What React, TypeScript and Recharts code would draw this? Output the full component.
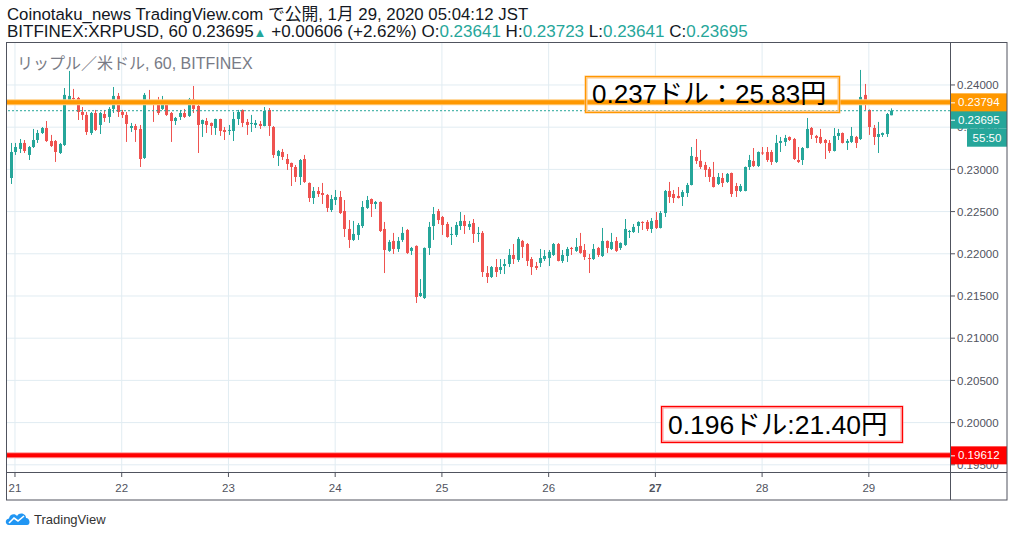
import React from 'react';
import { ComposedChart, Bar, XAxis, YAxis, CartesianGrid, ReferenceLine, ReferenceArea } from 'recharts';

const W = 1014;
const H = 537;
const UP = '#26a69a';
const DOWN = '#ef5350';
const AXIS = '#50535e';
const GRID = '#e1ecf2';
const FONT = '"Liberation Sans", Arial, "Noto Sans CJK JP", sans-serif';

// hourly bars, hour 0 = 21日 00:00, first bar is 20日 23:00
const FIRST_HOUR = -1;

const opens = [
  0.22898, 0.23206, 0.23242, 0.23313, 0.23171, 0.23265, 0.23348, 0.23431, 0.23490, 0.23336,
  0.23336, 0.23194, 0.23289, 0.23799, 0.23846, 0.23846, 0.23680, 0.23645, 0.23431, 0.23668,
  0.23526, 0.23656, 0.23621, 0.23716, 0.23870, 0.23680, 0.23645, 0.23490, 0.23514, 0.23479,
  0.23135, 0.23810, 0.23810, 0.23822, 0.23716, 0.23787, 0.23668, 0.23573, 0.23621, 0.23668,
  0.23633, 0.23834, 0.23751, 0.23538, 0.23573, 0.23550, 0.23490, 0.23597, 0.23467, 0.23455,
  0.23455, 0.23597, 0.23704, 0.23562, 0.23538, 0.23526, 0.23538, 0.23514, 0.23704, 0.23502,
  0.23159, 0.23206, 0.23123, 0.23076, 0.23028, 0.22910, 0.23123, 0.22839, 0.22661, 0.22744,
  0.22720, 0.22697, 0.22519, 0.22637, 0.22673, 0.22507, 0.22294, 0.22164, 0.22223, 0.22329,
  0.22543, 0.22649, 0.22590, 0.22614, 0.22294, 0.22034, 0.22152, 0.22057, 0.22164, 0.22282,
  0.22034, 0.22093, 0.21500, 0.21476, 0.22069, 0.22329, 0.22507, 0.22436, 0.22353, 0.22223,
  0.22223, 0.22329, 0.22389, 0.22318, 0.22365, 0.22235, 0.22247, 0.21772, 0.21725, 0.21843,
  0.21808, 0.21855, 0.21879, 0.21986, 0.21927, 0.22152, 0.22116, 0.21938, 0.21855, 0.21891,
  0.21938, 0.21950, 0.21986, 0.22116, 0.21915, 0.21974, 0.22069, 0.22034, 0.22093, 0.22045,
  0.21950, 0.21938, 0.22069, 0.21974, 0.22152, 0.22057, 0.22152, 0.22069, 0.22104, 0.22258,
  0.22258, 0.22329, 0.22377, 0.22377, 0.22294, 0.22400, 0.22306, 0.22483, 0.22744, 0.22708,
  0.22685, 0.22673, 0.22720, 0.22815, 0.23147, 0.23100, 0.23052, 0.23005, 0.22910, 0.22827,
  0.22898, 0.22851, 0.22957, 0.22803, 0.22744, 0.22744, 0.23028, 0.23100, 0.23040, 0.23200,
  0.23206, 0.23206, 0.23088, 0.23313, 0.23325, 0.23384, 0.23360, 0.23111, 0.23111, 0.23253,
  0.23490, 0.23396, 0.23384, 0.23348, 0.23313, 0.23218, 0.23396, 0.23431, 0.23313, 0.23325,
  0.23384, 0.23360, 0.23882, 0.23704, 0.23490, 0.23384, 0.23408, 0.23419, 0.23641,
];

const highs = [
  0.23313, 0.23313, 0.23360, 0.23348, 0.23277, 0.23479, 0.23467, 0.23502, 0.23573, 0.23408,
  0.23348, 0.23313, 0.23964, 0.24166, 0.23953, 0.23858, 0.23739, 0.23680, 0.23680, 0.23704,
  0.23680, 0.23704, 0.23739, 0.23976, 0.23905, 0.23704, 0.23680, 0.23550, 0.23538, 0.23526,
  0.23905, 0.23941, 0.23822, 0.23858, 0.23870, 0.23822, 0.23680, 0.23621, 0.23704, 0.23716,
  0.23846, 0.23988, 0.23775, 0.23590, 0.23609, 0.23555, 0.23600, 0.23600, 0.23502, 0.23526,
  0.23680, 0.23704, 0.23710, 0.23597, 0.23645, 0.23585, 0.23573, 0.23739, 0.23727, 0.23514,
  0.23230, 0.23242, 0.23182, 0.23080, 0.23052, 0.23123, 0.23171, 0.22845, 0.22791, 0.22791,
  0.22839, 0.22708, 0.22697, 0.22756, 0.22744, 0.22637, 0.22400, 0.22389, 0.22365, 0.22625,
  0.22685, 0.22655, 0.22625, 0.22620, 0.22377, 0.22164, 0.22247, 0.22199, 0.22318, 0.22294,
  0.22081, 0.22100, 0.21701, 0.22075, 0.22377, 0.22554, 0.22531, 0.22448, 0.22377, 0.22318,
  0.22377, 0.22495, 0.22460, 0.22389, 0.22412, 0.22318, 0.22270, 0.21855, 0.21855, 0.21938,
  0.21938, 0.21938, 0.22057, 0.22116, 0.22199, 0.22164, 0.22128, 0.21962, 0.21903, 0.22057,
  0.22045, 0.22045, 0.22128, 0.22128, 0.22045, 0.22081, 0.22081, 0.22187, 0.22247, 0.22116,
  0.21998, 0.22116, 0.22081, 0.22306, 0.22158, 0.22247, 0.22199, 0.22135, 0.22412, 0.22282,
  0.22353, 0.22385, 0.22385, 0.22400, 0.22424, 0.22495, 0.22507, 0.22756, 0.22851, 0.22756,
  0.22791, 0.22756, 0.22839, 0.23265, 0.23360, 0.23230, 0.23088, 0.23028, 0.23088, 0.22957,
  0.22957, 0.22957, 0.22962, 0.22839, 0.22827, 0.23034, 0.23171, 0.23253, 0.23212, 0.23265,
  0.23265, 0.23230, 0.23408, 0.23384, 0.23408, 0.23390, 0.23372, 0.23265, 0.23265, 0.23609,
  0.23502, 0.23408, 0.23479, 0.23360, 0.23348, 0.23490, 0.23479, 0.23437, 0.23360, 0.23502,
  0.23396, 0.24178, 0.24012, 0.23710, 0.23526, 0.23562, 0.23437, 0.23668, 0.23723,
];

const lows = [
  0.22827, 0.23171, 0.23194, 0.23194, 0.23111, 0.23253, 0.23313, 0.23419, 0.23325, 0.23265,
  0.23088, 0.23182, 0.23277, 0.23763, 0.23822, 0.23585, 0.23585, 0.23408, 0.23408, 0.23455,
  0.23419, 0.23562, 0.23550, 0.23668, 0.23621, 0.23609, 0.23325, 0.23443, 0.23325, 0.23028,
  0.23123, 0.23763, 0.23562, 0.23645, 0.23704, 0.23633, 0.23325, 0.23526, 0.23585, 0.23609,
  0.23621, 0.23668, 0.23194, 0.23384, 0.23431, 0.23408, 0.23408, 0.23396, 0.23348, 0.23408,
  0.23336, 0.23526, 0.23502, 0.23408, 0.23443, 0.23490, 0.23479, 0.23510, 0.23396, 0.23135,
  0.23040, 0.23111, 0.22993, 0.22803, 0.22851, 0.22815, 0.22839, 0.22614, 0.22590, 0.22673,
  0.22590, 0.22495, 0.22495, 0.22578, 0.22471, 0.22199, 0.22069, 0.22152, 0.22164, 0.22306,
  0.22531, 0.22436, 0.22531, 0.22258, 0.21772, 0.22022, 0.21998, 0.22022, 0.22140, 0.21998,
  0.21986, 0.21417, 0.21488, 0.21464, 0.21986, 0.22164, 0.22353, 0.22223, 0.22190, 0.22104,
  0.22199, 0.22282, 0.22235, 0.22282, 0.22128, 0.22140, 0.21725, 0.21654, 0.21713, 0.21725,
  0.21760, 0.21760, 0.21843, 0.21879, 0.21903, 0.21950, 0.21855, 0.21749, 0.21808, 0.21843,
  0.21915, 0.21855, 0.21974, 0.21910, 0.21891, 0.21903, 0.21986, 0.22022, 0.22000, 0.21927,
  0.21772, 0.21927, 0.21962, 0.21962, 0.22010, 0.22045, 0.22022, 0.22045, 0.22093, 0.22187,
  0.22247, 0.22247, 0.22282, 0.22270, 0.22247, 0.22294, 0.22300, 0.22436, 0.22602, 0.22602,
  0.22655, 0.22566, 0.22673, 0.22810, 0.23064, 0.23005, 0.22910, 0.22851, 0.22785, 0.22815,
  0.22791, 0.22839, 0.22673, 0.22673, 0.22732, 0.22740, 0.22993, 0.23028, 0.23028, 0.23171,
  0.23088, 0.23052, 0.23076, 0.23206, 0.23277, 0.23336, 0.23111, 0.23076, 0.23052, 0.23250,
  0.23360, 0.23313, 0.23301, 0.23123, 0.23194, 0.23212, 0.23348, 0.23307, 0.23230, 0.23313,
  0.23253, 0.23348, 0.23704, 0.23408, 0.23289, 0.23194, 0.23384, 0.23384, 0.23641,
];

const closes = [
  0.23206, 0.23265, 0.23313, 0.23218, 0.23265, 0.23348, 0.23431, 0.23490, 0.23336, 0.23277,
  0.23206, 0.23301, 0.23882, 0.23870, 0.23834, 0.23680, 0.23645, 0.23443, 0.23668, 0.23467,
  0.23668, 0.23609, 0.23716, 0.23870, 0.23680, 0.23645, 0.23538, 0.23514, 0.23467, 0.23123,
  0.23882, 0.23775, 0.23775, 0.23668, 0.23763, 0.23645, 0.23573, 0.23609, 0.23668, 0.23621,
  0.23834, 0.23716, 0.23526, 0.23585, 0.23526, 0.23514, 0.23597, 0.23455, 0.23443, 0.23467,
  0.23597, 0.23680, 0.23550, 0.23526, 0.23550, 0.23550, 0.23514, 0.23692, 0.23514, 0.23171,
  0.23218, 0.23147, 0.23064, 0.23028, 0.22910, 0.23111, 0.22851, 0.22661, 0.22744, 0.22708,
  0.22697, 0.22543, 0.22649, 0.22673, 0.22483, 0.22294, 0.22164, 0.22235, 0.22341, 0.22554,
  0.22637, 0.22590, 0.22614, 0.22270, 0.22045, 0.22140, 0.22057, 0.22152, 0.22247, 0.22010,
  0.22069, 0.21488, 0.21535, 0.22069, 0.22318, 0.22471, 0.22400, 0.22341, 0.22199, 0.22235,
  0.22341, 0.22389, 0.22329, 0.22353, 0.22235, 0.22247, 0.21784, 0.21725, 0.21843, 0.21784,
  0.21843, 0.21879, 0.21986, 0.21938, 0.22176, 0.22081, 0.21915, 0.21843, 0.21832, 0.21950,
  0.21974, 0.22022, 0.22116, 0.21915, 0.21986, 0.22057, 0.22057, 0.22081, 0.22010, 0.21962,
  0.21938, 0.22057, 0.21986, 0.22152, 0.22069, 0.22140, 0.22034, 0.22128, 0.22294, 0.22270,
  0.22318, 0.22377, 0.22365, 0.22294, 0.22389, 0.22306, 0.22483, 0.22744, 0.22673, 0.22661,
  0.22661, 0.22732, 0.22815, 0.23159, 0.23100, 0.23028, 0.22993, 0.22910, 0.22791, 0.22910,
  0.22839, 0.22946, 0.22708, 0.22744, 0.22803, 0.23028, 0.23111, 0.23040, 0.23206, 0.23188,
  0.23111, 0.23088, 0.23313, 0.23336, 0.23372, 0.23348, 0.23123, 0.23088, 0.23253, 0.23479,
  0.23408, 0.23372, 0.23313, 0.23313, 0.23218, 0.23396, 0.23431, 0.23313, 0.23336, 0.23396,
  0.23313, 0.23858, 0.23799, 0.23502, 0.23384, 0.23419, 0.23431, 0.23656, 0.23695,
];

const dayTicks = [0, 24, 48, 72, 96, 120, 144, 168, 192];
const dayLabels = ['21', '22', '23', '24', '25', '26', '27', '28', '29'];
const boldDay = '27';
const priceTicks = [0.195, 0.2, 0.205, 0.21, 0.215, 0.22, 0.225, 0.23, 0.235, 0.24];

const LAST_PRICE = 0.23695;
const LEVEL_HIGH = 0.23794;
const LEVEL_LOW = 0.19612;
const COUNTDOWN = '55:50';

const X_DOMAIN: [number, number] = [-2.02, 210.25];
const Y_DOMAIN: [number, number] = [0.19403, 0.24509];
const MARGIN = { top: 42, right: 7, bottom: 37, left: 6 };

const candles = opens.map((o, i) => ({
  t: FIRST_HOUR + i,
  o,
  h: highs[i],
  l: lows[i],
  c: closes[i],
}));

const Candle = (props: any) => {
  const { x, y, width, height, payload } = props;
  const { o, h, l, c } = payload;
  const top = Math.min(y, y + height);
  const hgt = Math.abs(height);
  const color = c >= o ? UP : DOWN;
  const k = h > l ? hgt / (h - l) : 0;
  const cx = Math.round(x + width / 2) + 0.5;
  const bTop = top + (h - Math.max(o, c)) * k;
  const bBot = top + (h - Math.min(o, c)) * k;
  return (
    <g>
      <line x1={cx} x2={cx} y1={top} y2={top + hgt} stroke={color} strokeWidth={1} />
      <rect x={cx - 1.5} y={bTop} width={3} height={Math.max(1, bBot - bTop)} fill={color} />
    </g>
  );
};

const DayTick = ({ x, y, payload }: any) => {
  const label = dayLabels[dayTicks.indexOf(payload.value)];
  return (
    <text x={x} y={y + 13} textAnchor="middle" fontSize={11.5} fill={AXIS} fontFamily={FONT}
      fontWeight={label === boldDay ? 'bold' : 'normal'}>
      {label}
    </text>
  );
};

const PriceTick = ({ x, y, payload }: any) => (
  <text x={x} y={y} dy="0.36em" textAnchor="start" fontSize={11.5} fill={AXIS} fontFamily={FONT}>
    {payload.value.toFixed(5)}
  </text>
);

// price tag on the right scale, drawn by a ReferenceLine label
const AxisTag = ({ viewBox, text, fill, dy = 0, sub }: any) => {
  if (!viewBox) return null;
  const x0 = viewBox.x + viewBox.width;
  const cy = viewBox.y + dy;
  return (
    <g>
      <rect x={x0} y={cy - 9} width={57} height={18} fill={fill} />
      <line x1={x0} x2={x0 + 5} y1={cy + 0.5} y2={cy + 0.5} stroke="#fff" />
      <text x={x0 + 8} y={cy} dy="0.36em" fontSize={11.5} fill="#fff" fontFamily={FONT}>{text}</text>
      {sub && (
        <g>
          <rect x={x0 + 17} y={cy + 9} width={40} height={18} fill={fill} />
          <text x={x0 + 37} y={cy + 18} dy="0.36em" textAnchor="middle" fontSize={11.5} fill="#fff" fontFamily={FONT}>{sub}</text>
        </g>
      )}
    </g>
  );
};

export default function App() {
  return (
    <div style={{ position: 'absolute', left: 0, top: 0, width: W, height: H, background: '#fff', overflow: 'hidden' }}>
      <ComposedChart width={W} height={H} data={candles} margin={MARGIN}>
        <CartesianGrid stroke={GRID} horizontalValues={priceTicks} verticalValues={dayTicks} />
        <XAxis dataKey="t" type="number" domain={X_DOMAIN} ticks={dayTicks} allowDataOverflow
          height={27} axisLine={false} tickLine={{ stroke: AXIS }} tickSize={4} tick={<DayTick />} interval={0} />
        <YAxis orientation="right" type="number" domain={Y_DOMAIN} ticks={priceTicks} allowDataOverflow
          width={57} axisLine={false} tickLine={{ stroke: AXIS }} tickSize={5} tickMargin={2} tick={<PriceTick />} interval={0} />
        <ReferenceArea x1={128.4} x2={185.3} y1={0.2368} y2={0.24095} fill="#fff" fillOpacity={1} stroke="none" />
        <ReferenceArea x1={145.3} x2={199.5} y1={0.19772} y2={0.20198} fill="#fff" fillOpacity={1} stroke="none" />
        <Bar dataKey={(d: any) => [d.l, d.h]} shape={<Candle />} barSize={3} isAnimationActive={false} />
        <ReferenceLine y={LAST_PRICE} stroke={UP} strokeDasharray="2 2" />
        <ReferenceLine y={LEVEL_HIGH} stroke="#ffcc80" strokeWidth={6} />
        <ReferenceLine y={LEVEL_HIGH} stroke="#ff9800" strokeWidth={4} />
        <ReferenceLine y={LEVEL_LOW} stroke="#ff9a9a" strokeWidth={6} />
        <ReferenceLine y={LEVEL_LOW} stroke="#ff0000" strokeWidth={4} />
      </ComposedChart>

      {/* same scales again, only for the price tags so they sit above the tick labels */}
      <div style={{ position: 'absolute', left: 0, top: 0 }}>
        <ComposedChart width={W} height={H} data={candles} margin={MARGIN}>
          <XAxis dataKey="t" type="number" domain={X_DOMAIN} allowDataOverflow height={27}
            axisLine={false} tickLine={false} tick={false} />
          <YAxis orientation="right" type="number" domain={Y_DOMAIN} allowDataOverflow width={57}
            axisLine={false} tickLine={false} tick={false} />
          <ReferenceLine y={LAST_PRICE} stroke="none"
            label={<AxisTag text={LAST_PRICE.toFixed(5)} fill={UP} dy={9} sub={COUNTDOWN} />} />
          <ReferenceLine y={LEVEL_HIGH} stroke="none"
            label={<AxisTag text={LEVEL_HIGH.toFixed(5)} fill="#ff9800" />} />
          <ReferenceLine y={LEVEL_LOW} stroke="none"
            label={<AxisTag text={LEVEL_LOW.toFixed(5)} fill="#ff0000" />} />
        </ComposedChart>
      </div>

      <svg width={W} height={H} style={{ position: 'absolute', left: 0, top: 0, pointerEvents: 'none' }} fontFamily={FONT}>
        {/* header */}
        <text x={7} y={20} fontSize={16.8} fill="#131722">
          Coinotaku_news TradingView.com で公開, 1月 29, 2020 05:04:12 JST
        </text>
        <text x={7} y={37} fontSize={17} fill="#131722">
          BITFINEX:XRPUSD, 60 0.23695<tspan fill={UP} fontSize={13}>▲</tspan>
          {' +0.00606 (+2.62%) O:'}<tspan fill={UP}>0.23641</tspan>
          {' H:'}<tspan fill={UP}>0.23723</tspan>
          {' L:'}<tspan fill={UP}>0.23641</tspan>
          {' C:'}<tspan fill={UP}>0.23695</tspan>
        </text>
        <text x={17} y={69} fontSize={16} fill="#787b86">リップル／米ドル, 60, BITFINEX</text>

        {/* frame */}
        <rect x={6.5} y={42.5} width={1000.5} height={457.5} fill="none" stroke={AXIS} />
        <line x1={6.5} x2={1007} y1={472.5} y2={472.5} stroke={AXIS} />
        <line x1={950.5} x2={950.5} y1={42.5} y2={500} stroke={AXIS} />

        {/* drawings */}
        <rect x={586} y={77} width={253} height={35} fill="none" stroke="#ffc680" strokeWidth={3} />
        <rect x={585.5} y={76.5} width={254} height={36} fill="none" stroke="#ff9800" strokeWidth={1} />
        <text x={592} y={103} fontSize={26} fill="#000">0.237ドル：25.83円</text>
        <rect x={662} y={407} width={240} height={35} fill="none" stroke="#ff9a9a" strokeWidth={3} />
        <rect x={661.5} y={406.5} width={241} height={36} fill="none" stroke="#ff0000" strokeWidth={1} />
        <text x={668} y={434} fontSize={26.5} fill="#000">0.196ドル:21.40円</text>

        {/* logo */}
        <path d="M9 525 C5 525 4.5 519 9 518.5 C9.5 514 15 513 17 516 C19 512 26 513 26 518 C30 518 31 525 27 525 Z" fill="#2196f3" />
        <polyline points="9,523 14,518 18,521 24,516" fill="none" stroke="#fff" strokeWidth={1.6} />
        <text x={34} y={523.5} fontSize={13} fill="#333">TradingView</text>
      </svg>
    </div>
  );
}
